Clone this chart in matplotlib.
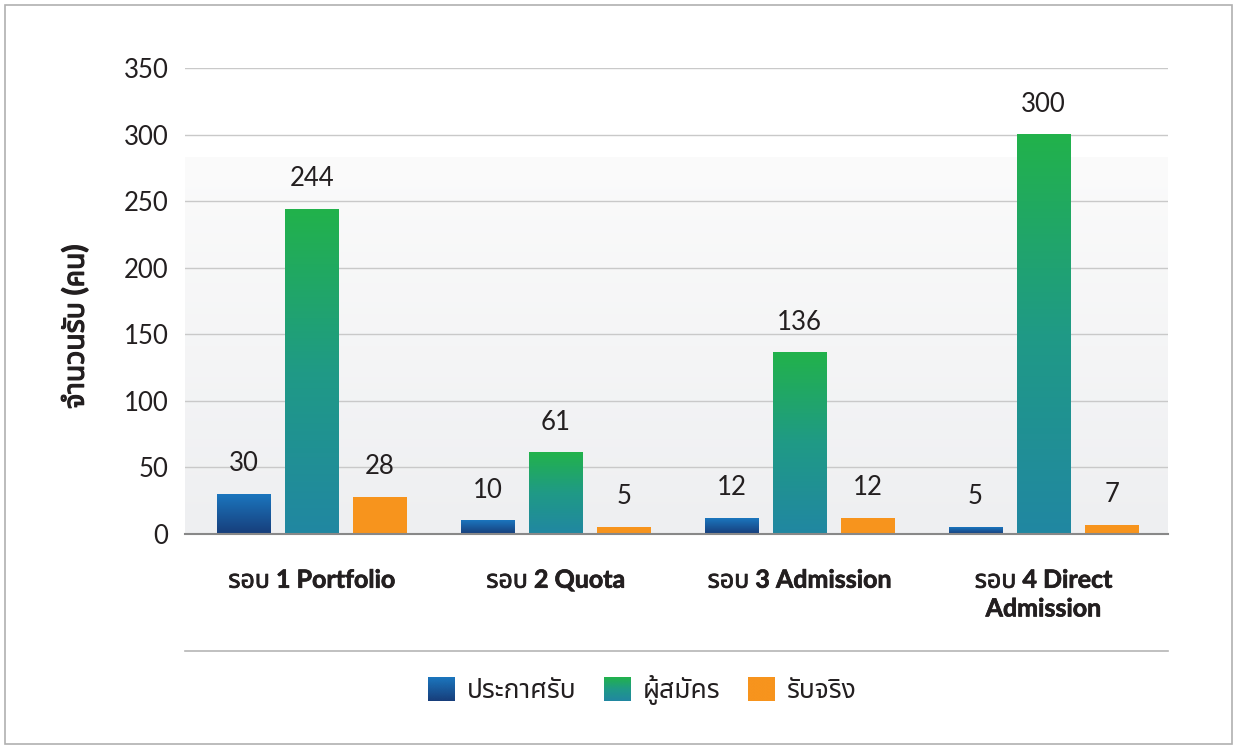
import sys
import numpy as np
import matplotlib
matplotlib.use("Agg")
import matplotlib.pyplot as plt
from matplotlib import font_manager, ft2font
from matplotlib.colors import LinearSegmentedColormap
from matplotlib.patches import Rectangle
from matplotlib.lines import Line2D
from matplotlib.legend_handler import HandlerBase
from matplotlib.image import BboxImage
from matplotlib.transforms import Bbox, TransformedBbox
import matplotlib.patheffects as pe

# ---- data ----
categories = ["รอบ 1 Portfolio", "รอบ 2 Quota", "รอบ 3 Admission", "รอบ 4 Direct\nAdmission"]
series_names = ["ประกาศรับ", "ผู้สมัคร", "รับจริง"]
announced = [30, 10, 12, 5]
applicants = [244, 61, 136, 300]
accepted = [28, 5, 12, 7]
y_ticks = [0, 50, 100, 150, 200, 250, 300, 350]
y_label = "จำนวนรับ (คน)"

# ---- fonts: find one with Thai glyphs ----
def find_thai():
    cands = []
    for f in font_manager.fontManager.ttflist:
        try:
            ft = ft2font.FT2Font(f.fname)
            if ft.get_char_index(0x0E23) and ft.get_char_index(0x0E1A) and ft.get_char_index(0x0E04):
                cands.append(f.name)
        except Exception:
            pass
    return sorted(set(cands))

thai = find_thai()
thai_font = thai[0] if thai else "DejaVu Sans"
for pref in ["Noto Sans Thai", "Noto Sans Thai UI", "Loma", "Garuda", "Noto Sans", "DejaVu Sans"]:
    if pref in thai:
        thai_font = pref
        break
fam = ["Lato", thai_font, "DejaVu Sans"]
plt.rcParams["font.family"] = fam

text_col = "#231f20"

fig = plt.figure(figsize=(12.38, 7.46), dpi=100)
ax = fig.add_axes([185/1238, 212/746, 983/1238, 466/746])

x = np.arange(len(categories))
offset = 0.279
width = 0.221

blue_cm = LinearSegmentedColormap.from_list("b", ["#173d7a", "#1b76be"])
green_cm = LinearSegmentedColormap.from_list("g", ["#2187a2", "#1f9a86", "#22b24b"])
orange_cm = LinearSegmentedColormap.from_list("o", ["#f7941d", "#f7941d"])
grad = np.linspace(0, 1, 256).reshape(-1, 1)

# background gradient in plot area
bg_cm = LinearSegmentedColormap.from_list("bg", ["#eeeff1", "#fbfbfb"])
ax.imshow(grad, extent=[-0.52, 3.51, 0, 283], origin="lower", aspect="auto",
          cmap=bg_cm, zorder=0, interpolation="bicubic")

series = [(announced, blue_cm, None), (applicants, green_cm, None), (accepted, None, "#f7941d")]
for i, (vals, cm, col) in enumerate(series):
    bars = ax.bar(x + (i - 1) * offset, vals, width,
                  color=col if col else "none", zorder=3, linewidth=0)
    for b, v in zip(bars, vals):
        if cm is not None:
            x0 = b.get_x()
            ax.imshow(grad, extent=[x0, x0 + b.get_width(), 0, b.get_height()],
                      origin="lower", aspect="auto", cmap=cm, zorder=3)
        ax.annotate(str(v), (b.get_x() + b.get_width() / 2, b.get_height()),
                    xytext=(0, 13), textcoords="offset points", ha="center",
                    va="bottom", fontsize=18.5, color=text_col, zorder=5)

ax.set_xlim(-0.52, 3.51)
ax.set_ylim(0, 350)
ax.set_yticks(y_ticks)
ax.set_xticks(x)
ax.set_xticklabels(categories, fontsize=18, fontweight="bold", color=text_col,
                   linespacing=1.3)
for t in ax.get_xticklabels():
    t.set_path_effects([pe.withStroke(linewidth=0.5, foreground=text_col)])
ax.tick_params(axis="y", length=0, pad=12, labelsize=18.5, labelcolor=text_col)
ax.tick_params(axis="x", length=0, pad=25)
ax.grid(axis="y", color="#c9c9c9", linewidth=1, zorder=1)
ax.set_axisbelow(True)
for s in ["top", "right", "left"]:
    ax.spines[s].set_visible(False)
ax.spines["bottom"].set_color("#888888")
ax.spines["bottom"].set_linewidth(1.5)
ax.spines["bottom"].set_zorder(4)
yl = ax.set_ylabel(y_label, fontsize=20.5, fontweight="bold", color=text_col)
yl.set_path_effects([pe.withStroke(linewidth=0.9, foreground=text_col)])
ax.yaxis.set_label_coords(-0.112, 0.444)
yl.set_va("center")

# separator line under x labels
fig.add_artist(Line2D([185/1238, 1168/1238], [1 - 651/746] * 2, color="#b5b5b5", lw=1.2))

# border
fig.add_artist(Rectangle((5/1238, 2/746), 1227/1238, 739/746, fill=False,
                         edgecolor="#b0b0b0", lw=1.2, transform=fig.transFigure))


class GradHandler(HandlerBase):
    def __init__(self, cmap):
        super().__init__()
        self.cmap = cmap

    def create_artists(self, legend, orig_handle, xdescent, ydescent, width, height,
                       fontsize, trans):
        bb = Bbox.from_bounds(-xdescent, -ydescent, width, height)
        im = BboxImage(TransformedBbox(bb, trans), cmap=self.cmap, origin="lower",
                       interpolation="bicubic")
        im.set_data(grad)
        return [im]


handles = [Rectangle((0, 0), 1, 1, color=c) for c in ["#1a5a9e", "#20a06a", "#f7941d"]]
fig.legend(handles, series_names, loc="center", bbox_to_anchor=(642/1238, 1 - 690/746),
           ncol=3, frameon=False, fontsize=19, handlelength=1.02, handleheight=1.02,
           handletextpad=0.45, columnspacing=1.05, labelcolor=text_col,
           handler_map={handles[0]: GradHandler(blue_cm), handles[1]: GradHandler(green_cm),
                        handles[2]: GradHandler(orange_cm)})

fig.savefig("out.png", dpi=100, facecolor="white")
